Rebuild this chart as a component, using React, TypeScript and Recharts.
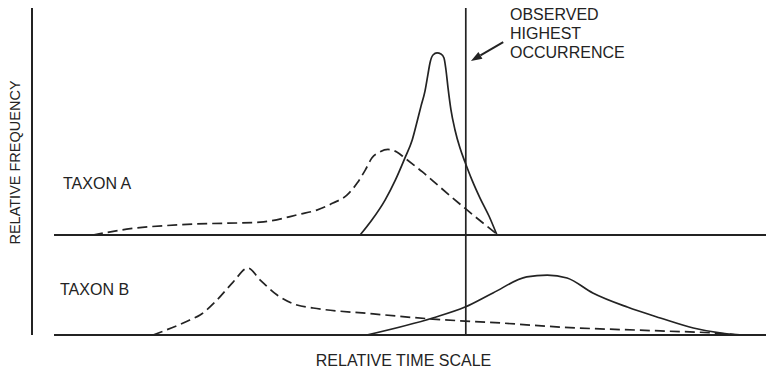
import React from "react";
import { ComposedChart, Line, XAxis, YAxis, ReferenceLine } from "recharts";

// Relative time (0–100 across the plot) vs relative frequency for each curve.
const taxonATime = [8.3, 12.9, 21.9, 31.1, 36.5, 38.8, 41.0, 42.9, 44.3, 45.4, 46.3, 47.4, 48.5, 49.7, 50.8, 53.2, 55.6, 59.1, 63.5];
const taxonAFreq = [0, 2.6, 4.8, 5.7, 9.2, 11.0, 14.1, 17.6, 22.9, 28.6, 33.9, 36.6, 37.7, 36.6, 33.9, 27.8, 21.1, 11.5, 0];

const taxonASolidTime = [44.7, 46.3, 48.1, 49.5, 50.8, 51.8, 52.45, 53.0, 53.54, 53.95, 54.22, 54.63, 55.18, 55.72, 56.13, 56.4, 56.68, 57.08, 57.63, 58.31, 58.99, 59.95, 61.04, 62.26, 63.35];
const taxonASolidFreq = [0, 6.6, 15.4, 24.2, 33.9, 41.9, 49.8, 56.8, 63.4, 70.9, 75.8, 79.3, 80.2, 79.7, 78.0, 72.7, 64.8, 55.1, 46.3, 38.3, 32.2, 24.2, 16.3, 8.4, 0];

const taxonBTime = [16.5, 21.5, 22.9, 25.2, 27.4, 29.4, 31.1, 33.4, 36.1, 38.3, 46.5, 54.6, 63.8, 71.9, 85.6, 92.8, 96.5];
const taxonBFreq = [0, 6.6, 8.8, 15.4, 23.3, 29.5, 24.2, 17.6, 13.2, 11.9, 9.3, 7.0, 5.3, 3.5, 1.8, 0.9, 0];

const taxonBSolidTime = [45.6, 54.6, 59.0, 62.8, 67.4, 70.2, 72.9, 76.4, 81.1, 85.6, 90.1, 93.7, 96.0];
const taxonBSolidFreq = [0, 7.5, 12.3, 18.5, 25.6, 26.4, 25.1, 18.5, 12.3, 7.5, 3.1, 0.9, 0];

const observedHighest = 59.1;
const baselineStart = 3;
const arrowFrom = { x: 64.2, y: 85.0 };
const arrowTo = { x: 59.8, y: 76.7 };

const taxonLabels = ["TAXON A", "TAXON B"];
const observedLabel = ["OBSERVED", "HIGHEST", "OCCURRENCE"];
const xTitle = "RELATIVE TIME SCALE";
const yTitle = "RELATIVE FREQUENCY";

const toPoints = (t: number[], f: number[]) => t.map((x, i) => ({ t: x, f: f[i] }));

const INK = "#232323";
const FONT = "'Liberation Sans', Arial, Helvetica, sans-serif";

const ArrowShape = (props: any) => {
  const { x1, y1, x2, y2 } = props;
  const ang = Math.atan2(y2 - y1, x2 - x1);
  const len = 11;
  const half = 4;
  const bx = x2 - len * Math.cos(ang);
  const by = y2 - len * Math.sin(ang);
  const px = -Math.sin(ang) * half;
  const py = Math.cos(ang) * half;
  return (
    <g>
      <line x1={x1} y1={y1} x2={bx} y2={by} stroke={INK} strokeWidth={2} />
      <polygon points={`${x2},${y2} ${bx + px},${by + py} ${bx - px},${by - py}`} fill={INK} />
    </g>
  );
};

export default function App() {
  return (
    <div style={{ position: "absolute", left: 0, top: 0, width: 766, height: 370, background: "#fff" }}>
      <ComposedChart width={766} height={370} margin={{ top: 8, right: 0, bottom: 35, left: 32 }}>
        <XAxis type="number" dataKey="t" domain={[0, 100]} hide allowDataOverflow />
        <YAxis yAxisId="a" type="number" domain={[-44, 100]} hide allowDataOverflow />
        <YAxis yAxisId="b" type="number" domain={[0, 144]} hide allowDataOverflow />

        <ReferenceLine yAxisId="a" x={0} stroke={INK} strokeWidth={2} />
        <ReferenceLine yAxisId="a" segment={[{ x: baselineStart, y: 0 }, { x: 100, y: 0 }]} stroke={INK} strokeWidth={2} />
        <ReferenceLine yAxisId="b" segment={[{ x: baselineStart, y: 0 }, { x: 100, y: 0 }]} stroke={INK} strokeWidth={2} />
        <ReferenceLine yAxisId="a" x={observedHighest} stroke={INK} strokeWidth={1.7} />
        <ReferenceLine yAxisId="a" segment={[arrowFrom, arrowTo]} shape={ArrowShape} />

        <Line yAxisId="a" data={toPoints(taxonATime, taxonAFreq)} dataKey="f" type="monotone" stroke={INK} strokeWidth={1.7} strokeDasharray="10 5" dot={false} activeDot={false} isAnimationActive={false} />
        <Line yAxisId="a" data={toPoints(taxonASolidTime, taxonASolidFreq)} dataKey="f" type="monotone" stroke={INK} strokeWidth={1.7} dot={false} activeDot={false} isAnimationActive={false} />
        <Line yAxisId="b" data={toPoints(taxonBTime, taxonBFreq)} dataKey="f" type="monotone" stroke={INK} strokeWidth={1.7} strokeDasharray="10 5" dot={false} activeDot={false} isAnimationActive={false} />
        <Line yAxisId="b" data={toPoints(taxonBSolidTime, taxonBSolidFreq)} dataKey="f" type="monotone" stroke={INK} strokeWidth={1.7} dot={false} activeDot={false} isAnimationActive={false} />
      </ComposedChart>

      <svg width={766} height={370} style={{ position: "absolute", left: 0, top: 0, pointerEvents: "none" }}>
        <g fontFamily={FONT} fontSize={16} fill={INK}>
          <text x={63} y={188.5}>{taxonLabels[0]}</text>
          <text x={60} y={295}>{taxonLabels[1]}</text>
          {observedLabel.map((s, i) => (
            <text key={s} x={510} y={19.5 + i * 19.4}>{s}</text>
          ))}
          <text x={403.5} y={365.5} textAnchor="middle">{xTitle}</text>
          <text x={0} y={0} fontSize={14.5} textAnchor="middle" transform="translate(19.5,162.5) rotate(-90)">{yTitle}</text>
        </g>
      </svg>
    </div>
  );
}
